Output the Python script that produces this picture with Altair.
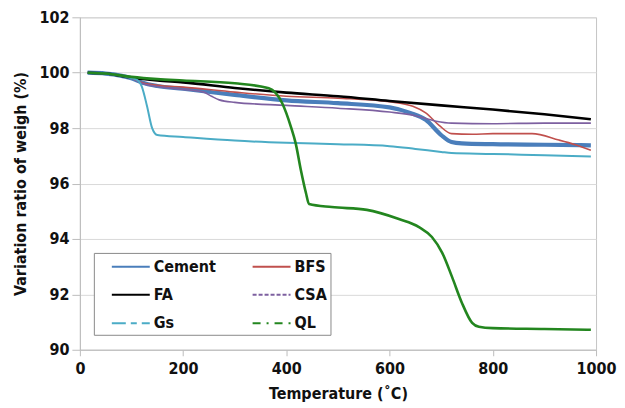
import altair as alt
import pandas as pd

series = ["Cement", "BFS", "FA", "CSA", "Gs", "QL"]
colors = ["#4a7ebb", "#c0504d", "#000000", "#7d60a0", "#4bacc6", "#23861f"]
dashes = [[1, 0], [1, 0], [1, 0], [4, 2], [14, 5, 6, 5], [8, 6, 2, 6]]
widths = [4.2, 1.6, 2.6, 1.6, 2.0, 2.6]

cement_t = [15, 50, 100, 120, 150, 200, 300, 400, 500, 600, 640, 670, 700, 720, 740, 800, 900, 990]
cement_w = [100.0, 99.97, 99.8, 99.65, 99.52, 99.42, 99.2, 99.0, 98.9, 98.75, 98.55, 98.3, 97.75, 97.5, 97.45, 97.42, 97.4, 97.38]

bfs_t = [15, 50, 100, 120, 150, 200, 300, 400, 500, 600, 645, 670, 696, 720, 760, 800, 876, 928, 960, 990]
bfs_w = [100.0, 99.97, 99.8, 99.65, 99.55, 99.48, 99.3, 99.15, 99.08, 98.95, 98.79, 98.55, 98.1, 97.8, 97.78, 97.8, 97.8, 97.57, 97.4, 97.2]

fa_t = [15, 50, 100, 150, 200, 300, 400, 500, 600, 700, 800, 900, 990]
fa_w = [100.0, 99.97, 99.82, 99.72, 99.65, 99.45, 99.28, 99.15, 98.98, 98.82, 98.67, 98.5, 98.32]

csa_t = [15, 50, 100, 120, 150, 200, 240, 255, 270, 300, 400, 500, 600, 650, 690, 720, 800, 900, 990]
csa_w = [100.0, 99.97, 99.8, 99.62, 99.5, 99.4, 99.3, 99.15, 99.02, 98.93, 98.82, 98.72, 98.58, 98.45, 98.25, 98.18, 98.16, 98.18, 98.18]

gs_t = [15, 50, 90, 110, 120, 130, 140, 150, 200, 300, 400, 500, 600, 650, 700, 720, 800, 900, 990]
gs_w = [100.0, 99.97, 99.85, 99.75, 99.5, 98.8, 98.0, 97.75, 97.68, 97.55, 97.47, 97.42, 97.35, 97.25, 97.14, 97.1, 97.07, 97.02, 96.98]

ql_t = [15, 50, 100, 150, 200, 300, 366, 392, 409, 418, 428, 438, 444, 488, 556, 618, 657, 682, 702, 721, 740, 760, 773, 800, 900, 990]
ql_w = [100.0, 99.97, 99.85, 99.77, 99.72, 99.62, 99.44, 98.9, 98.04, 97.46, 96.5, 95.66, 95.26, 95.15, 95.05, 94.72, 94.43, 94.07, 93.5, 92.63, 91.7, 90.97, 90.83, 90.78, 90.75, 90.72]

data = [
    ("Cement", cement_t, cement_w),
    ("BFS", bfs_t, bfs_w),
    ("FA", fa_t, fa_w),
    ("CSA", csa_t, csa_w),
    ("Gs", gs_t, gs_w),
    ("QL", ql_t, ql_w),
]
rows = []
for name, ts, ws in data:
    for t, w in zip(ts, ws):
        rows.append({"series": name, "T": t, "W": w})
df = pd.DataFrame(rows)
legend_df = df.groupby("series", sort=False).head(1).reset_index(drop=True)

FONT = "Liberation Sans Narrow, DejaVu Sans Condensed, sans-serif"

color_scale = alt.Scale(domain=series, range=colors)
dash_scale = alt.Scale(domain=series, range=dashes)

x_enc = alt.X(
    "T:Q",
    scale=alt.Scale(domain=[0, 1000], nice=False),
    axis=alt.Axis(
        values=[0, 200, 400, 600, 800, 1000],
        format="d",
        title="Temperature (˚C)",
        grid=False,
        tickSize=6,
        labelFlush=False,
        labelPadding=5,
        titlePadding=9,
    ),
)
y_enc = alt.Y(
    "W:Q",
    scale=alt.Scale(domain=[90, 102], nice=False, zero=False),
    axis=alt.Axis(
        values=[90, 92, 94, 96, 98, 100, 102],
        title="Variation ratio of weigh (%)",
        grid=True,
        tickSize=8,
        labelFlush=False,
        labelPadding=3,
        titlePadding=10,
    ),
)

layers = []
for name, w in zip(series, widths):
    layers.append(
        alt.Chart(df)
        .transform_filter(alt.datum.series == name)
        .mark_line(interpolate="monotone", strokeWidth=w)
        .encode(
            x=x_enc,
            y=y_enc,
            color=alt.Color("series:N", scale=color_scale),
        )
    )

legend_props = dict(
    orient="none",
    legendX=14,
    legendY=236,
    columns=2,
    direction="horizontal",
    title=None,
    symbolType="M0,0H4",
    symbolSize=361,
    symbolStrokeWidth=2,
    symbolOffset=4.5,
    labelOffset=31.5,
    labelFont=FONT,
    labelFontSize=16,
    labelFontWeight="bold",
    labelColor="#111111",
    fillColor="white",
    strokeColor="#8a8a8a",
    padding=3,
    rowPadding=9.5,
    columnPadding=21,
)

legend_layer = alt.Chart(legend_df).mark_line(strokeWidth=2).encode(
    x="T:Q",
    y="W:Q",
    color=alt.Color("series:N", scale=color_scale, legend=alt.Legend(**legend_props)),
    strokeDash=alt.StrokeDash("series:N", scale=dash_scale, legend=alt.Legend(**legend_props)),
)

chart = (
    alt.layer(*layers, legend_layer)
    .properties(width=517, height=333, padding={"left": 4, "top": 1, "right": 0, "bottom": 0})
    .configure_view(stroke="#c6c6c6", strokeWidth=1)
    .configure_axis(
        labelFont=FONT,
        titleFont=FONT,
        labelFontSize=16,
        titleFontSize=16,
        labelFontWeight="bold",
        titleFontWeight="bold",
        labelColor="#111111",
        titleColor="#111111",
        domainColor="#bdbdbd",
        tickColor="#bdbdbd",
        gridColor="#d9d9d9",
    )
)

chart.save("out.html", embed_options={"renderer": "svg", "actions": False})
